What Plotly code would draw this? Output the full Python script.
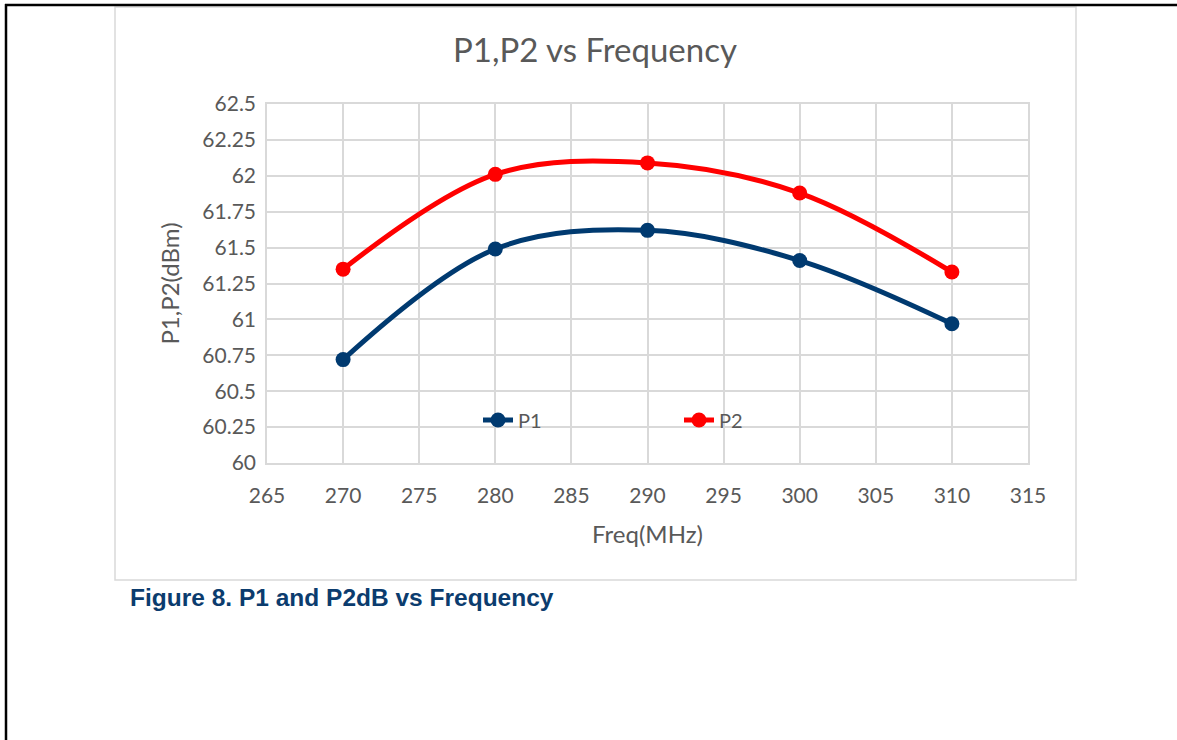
import plotly.graph_objects as go

# data
freq_mhz = [270, 280, 290, 300, 310]
p1_dbm = [60.72, 61.49, 61.62, 61.41, 60.97]
p2_dbm = [61.35, 62.01, 62.09, 61.88, 61.33]

x_ticks = [265, 270, 275, 280, 285, 290, 295, 300, 305, 310, 315]
y_ticks = [60, 60.25, 60.5, 60.75, 61, 61.25, 61.5, 61.75, 62, 62.25, 62.5]
y_tick_text = ["60", "60.25", "60.5", "60.75", "61", "61.25", "61.5", "61.75", "62", "62.25", "62.5"]

W, H = 1177, 740
PL, PR, PT, PB = 267, 1028, 104, 463  # plot area in pixels


def px(x):
    return (x - PL) / (PR - PL)


def py(y):
    return (PB - y) / (PB - PT)


grey = '#595959'
grid = '#d9d9d9'
font = "Lato, 'Open Sans', sans-serif"

fig = go.Figure()
fig.add_trace(go.Scatter(x=freq_mhz, y=p1_dbm, name="P1", mode='lines+markers',
                         line=dict(color='#003A70', width=5, shape='spline', smoothing=1),
                         marker=dict(size=15, color='#003A70')))
fig.add_trace(go.Scatter(x=freq_mhz, y=p2_dbm, name="P2", mode='lines+markers',
                         line=dict(color='#FF0000', width=5, shape='spline', smoothing=1),
                         marker=dict(size=15, color='#FF0000')))

# page frame lines, chart box and caption
fig.add_shape(type='line', xref='paper', yref='paper', x0=px(5), x1=px(1177), y0=py(5), y1=py(5),
              line=dict(color='black', width=2.5))
fig.add_shape(type='line', xref='paper', yref='paper', x0=px(6), x1=px(6), y0=py(4), y1=py(740),
              line=dict(color='black', width=2.5))
fig.add_shape(type='rect', xref='paper', yref='paper', x0=px(115), x1=px(1076), y0=py(7), y1=py(580),
              line=dict(color=grid, width=1.5), layer='below')
fig.add_annotation(text="<b>Figure 8. P1 and P2dB vs Frequency</b>", xref='paper', yref='paper',
                   x=px(128), y=py(597), xanchor='left', yanchor='middle', showarrow=False,
                   font=dict(family="'Liberation Sans', Arial, sans-serif", size=24.5, color='#0B3C6E'))

fig.update_layout(
    width=W, height=H,
    margin=dict(l=PL, r=W - PR, t=PT, b=H - PB, autoexpand=False),
    paper_bgcolor='white', plot_bgcolor='white',
    font=dict(family=font, color=grey, size=20),
    title=dict(text="P1,P2 vs Frequency", xref='container', yref='container',
               x=595 / W, y=1 - 50 / H, xanchor='center', yanchor='middle',
               font=dict(size=33, color=grey)),
    legend=dict(orientation='h', x=px(478), y=py(420), xanchor='left', yanchor='middle',
                entrywidth=156, bgcolor='rgba(0,0,0,0)', font=dict(size=20, color=grey)),
    showlegend=True,
)
fig.update_xaxes(range=[265, 315], tickvals=x_ticks, showgrid=True, gridcolor=grid, gridwidth=1.5,
                 showline=True, linecolor=grid, linewidth=1.5, mirror=True, zeroline=False,
                 ticklabelstandoff=13, tickfont=dict(size=21, color=grey),
                 title=dict(text="Freq(MHz)", standoff=20, font=dict(size=24, color=grey)))
fig.update_yaxes(range=[60, 62.5], tickvals=y_ticks, ticktext=y_tick_text, showgrid=True, gridcolor=grid,
                 gridwidth=1.5, showline=True, linecolor=grid, linewidth=1.5, mirror=True, zeroline=False,
                 ticklabelstandoff=5, tickfont=dict(size=21, color=grey),
                 title=dict(text="P1,P2(dBm)", standoff=16, font=dict(size=24, color=grey)))

fig.write_html("out.html", config={'displayModeBar': False})

# drop the browser's default 8px body margin so the figure sits at the page corner
with open("out.html", encoding="utf-8") as f:
    page = f.read()
page = page.replace("<body>", '<body style="margin:0">', 1)
with open("out.html", "w", encoding="utf-8") as f:
    f.write(page)
